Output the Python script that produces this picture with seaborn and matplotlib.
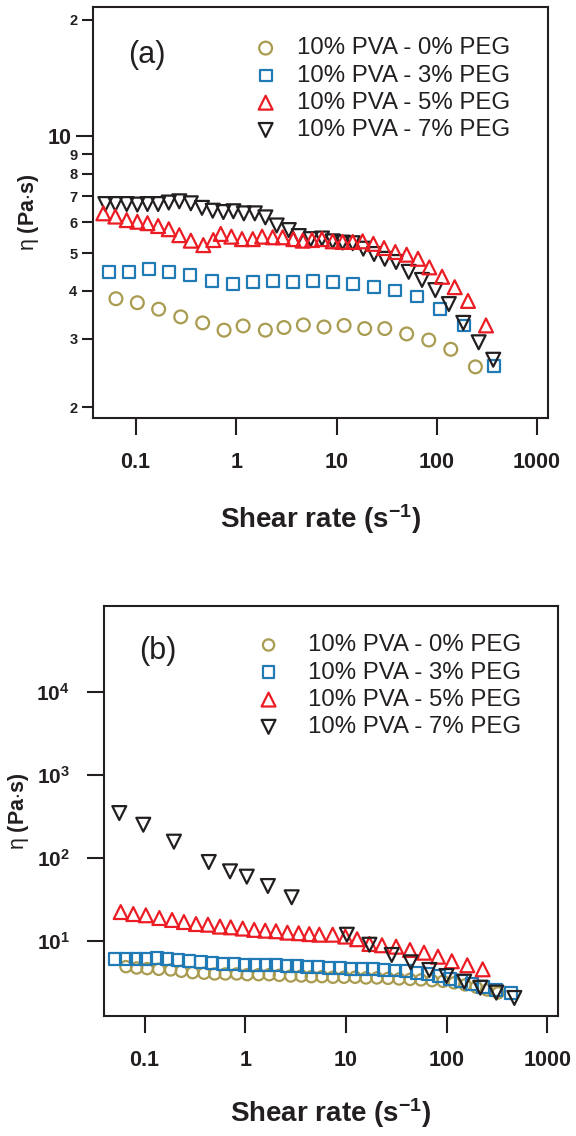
import matplotlib
matplotlib.use("Agg")
import matplotlib.pyplot as plt
import seaborn as sns
from matplotlib.ticker import FixedLocator, FixedFormatter, NullLocator

# ---------------- data (panel a) ----------------
a_x0 = [0.063, 0.103, 0.168, 0.279, 0.462, 0.755, 1.17, 1.95, 2.99, 4.67, 7.5, 11.9, 19.1, 30.3, 50.1, 83.2, 138, 243]
a_y0 = [3.81, 3.72, 3.58, 3.42, 3.30, 3.16, 3.24, 3.16, 3.21, 3.26, 3.22, 3.25, 3.19, 3.19, 3.09, 2.98, 2.82, 2.54]

a_x3 = [0.0535, 0.0858, 0.134, 0.215, 0.346, 0.573, 0.922, 1.46, 2.31, 3.66, 5.79, 9.16, 14.7, 23.7, 38.1, 63.1, 108, 187, 372]
a_y3 = [4.47, 4.47, 4.54, 4.47, 4.38, 4.24, 4.16, 4.21, 4.24, 4.21, 4.24, 4.21, 4.16, 4.09, 4.00, 3.86, 3.59, 3.25, 2.55]

a_x5 = [0.0472, 0.0622, 0.0807, 0.103, 0.130, 0.166, 0.212, 0.270, 0.352, 0.469, 0.590, 0.700, 0.893, 1.14, 1.46,
        1.81, 2.31, 2.90, 3.71, 4.60, 5.70, 7.16, 9.16, 11.5, 14.5, 18.2, 23.3, 29.8, 38.6, 50.1, 65.0, 84.3, 113, 151, 205, 310]
a_y5 = [6.33, 6.21, 6.08, 6.02, 5.97, 5.87, 5.76, 5.56, 5.38, 5.24, 5.40, 5.60, 5.51, 5.43, 5.43, 5.51, 5.49, 5.49,
        5.43, 5.38, 5.40, 5.43, 5.36, 5.34, 5.34, 5.36, 5.28, 5.15, 5.03, 4.95, 4.83, 4.59, 4.34, 4.08, 3.76, 3.25]

a_x7 = [0.0494, 0.0622, 0.0807, 0.103, 0.130, 0.166, 0.212, 0.270, 0.352, 0.455, 0.582, 0.743, 0.935, 1.19, 1.53,
        1.95, 2.53, 3.34, 4.20, 5.53, 7.16, 9.16, 11.5, 14.5, 18.5, 23.7, 30.3, 39.3, 52.5, 71.3, 96.8, 132, 184, 262, 366]
a_y7 = [6.69, 6.69, 6.69, 6.67, 6.69, 6.69, 6.75, 6.80, 6.72, 6.54, 6.43, 6.38, 6.41, 6.33, 6.33, 6.18, 5.89, 5.73,
        5.53, 5.43, 5.45, 5.36, 5.32, 5.30, 5.13, 4.97, 4.83, 4.74, 4.47, 4.26, 4.01, 3.69, 3.30, 2.94, 2.65]

# ---------------- data (panel b) ----------------
b_x0 = [0.0647, 0.0826, 0.105, 0.137, 0.180, 0.230, 0.298, 0.387, 0.494, 0.630, 0.817, 1.04, 1.35, 1.72, 2.17, 2.82,
        3.59, 4.52, 5.77, 7.42, 9.55, 12.3, 15.8, 20.3, 26.2, 33.7, 43.4, 55.7, 71.8, 92.3, 119, 153, 197, 253, 325]
b_y0 = [4.91, 4.73, 4.65, 4.56, 4.48, 4.32, 4.16, 4.09, 4.01, 4.01, 4.01, 3.93, 3.93, 3.93, 3.86, 3.79, 3.79, 3.72,
        3.72, 3.66, 3.66, 3.66, 3.59, 3.59, 3.55, 3.49, 3.45, 3.40, 3.33, 3.27, 3.13, 2.96, 2.79, 2.57, 2.37]

b_x3 = [0.050, 0.0648, 0.0813, 0.102, 0.131, 0.167, 0.213, 0.276, 0.358, 0.464, 0.593, 0.768, 0.982, 1.25, 1.60,
        2.01, 2.57, 3.23, 4.12, 5.26, 6.77, 8.71, 11.2, 14.4, 18.6, 23.9, 30.7, 39.6, 50.8, 65.4, 84.2, 108, 139, 179,
        231, 310, 440]
b_y3 = [6.12, 6.12, 6.12, 6.12, 6.24, 6.12, 5.91, 5.79, 5.59, 5.39, 5.29, 5.29, 5.19, 5.10, 5.10, 5.10, 5.00, 5.00,
        4.91, 4.83, 4.73, 4.73, 4.65, 4.56, 4.56, 4.48, 4.40, 4.32, 4.16, 4.01, 3.79, 3.52, 3.27, 3.04, 2.77, 2.57, 2.35]

b_x5 = [0.0573, 0.0765, 0.102, 0.139, 0.186, 0.244, 0.322, 0.423, 0.557, 0.713, 0.938, 1.22, 1.57, 2.01, 2.61, 3.38,
        4.31, 5.42, 7.37, 9.84, 12.9, 17.1, 22.8, 31.5, 43.3, 59.7, 82.2, 113, 161, 229]
b_y5 = [22.3, 21.1, 20.4, 18.9, 17.9, 16.9, 16.0, 15.7, 14.9, 14.6, 14.1, 13.6, 13.3, 13.1, 12.6, 12.4, 12.1, 11.9,
        11.9, 11.3, 10.5, 9.2, 8.88, 8.54, 7.79, 7.23, 6.47, 5.70, 5.10, 4.56]

b_x7 = [0.0555, 0.0962, 0.194, 0.431, 0.701, 1.03, 1.67, 2.88, 10.2, 17.1, 28.5, 44.1, 67.5, 100, 150, 217, 313, 473]
b_y7 = [347, 251, 157, 89.3, 69.0, 59.5, 45.9, 33.6, 11.9, 9.02, 6.79, 5.54, 4.48, 3.79, 3.24, 2.74, 2.39, 2.06]

labels = ["10% PVA - 0% PEG", "10% PVA - 3% PEG", "10% PVA - 5% PEG", "10% PVA - 7% PEG"]
x_ticks = [0.1, 1, 10, 100, 1000]
x_ticklabels = ["0.1", "1", "10", "100", "1000"]

# ---------------- style ----------------
sns.set_style("ticks")
plt.rcParams['font.family'] = ['Liberation Sans', 'DejaVu Sans']
plt.rcParams['mathtext.fontset'] = 'custom'
plt.rcParams['mathtext.rm'] = 'Liberation Sans'
plt.rcParams['mathtext.bf'] = 'Liberation Sans:bold'
plt.rcParams['mathtext.it'] = 'Liberation Sans:italic'
plt.rcParams['mathtext.sf'] = 'Liberation Sans'

INK = "#231f20"
colors = ["#a99b50", "#1f7ab6", "#ec1c24", "#231f20"]
markers = ["o", "s", "^", "v"]

fig = plt.figure(figsize=(5.76, 11.36), dpi=100)
axA = fig.add_axes([93 / 576, 1 - 418 / 1136, 455 / 576, 411 / 1136])
axB = fig.add_axes([104 / 576, 1 - 1016 / 1136, 454 / 576, 410 / 1136])


def bold(s):
    return r"$\mathbf{" + s + "}$"


def draw(ax, xs, ys, sizes, zorders):
    handles = []
    for x, y, m, c, s, lab, z in zip(xs, ys, markers, colors, sizes, labels, zorders):
        sns.scatterplot(x=x, y=y, ax=ax, marker=m, s=s, facecolor="none", edgecolor=c,
                        linewidth=1.6, label=lab, zorder=z, legend=False)
        handles.append(ax.collections[-1])
    return handles


def common(ax):
    ax.set_xscale("log")
    ax.set_yscale("log")
    for sp in ax.spines.values():
        sp.set_linewidth(1.5)
        sp.set_color(INK)
    ax.xaxis.set_major_locator(FixedLocator(x_ticks))
    ax.xaxis.set_major_formatter(FixedFormatter([bold(t) for t in x_ticklabels]))
    ax.xaxis.set_minor_locator(NullLocator())
    ax.tick_params(axis="x", which="major", length=12.5, width=1.5, color=INK, pad=12,
                   labelsize=15.5, labelcolor=INK, direction="out")
    ax.tick_params(top=False, right=False)


# ---------------- panel (a) ----------------
hA = draw(axA, [a_x0, a_x3, a_x5, a_x7], [a_y0, a_y3, a_y5, a_y7], [85, 72, 100, 100], [3, 4, 6, 5])
common(axA)
axA.set_xlim(0.0372, 1288)
axA.set_ylim(1.874, 21.6)
axA.yaxis.set_major_locator(FixedLocator([10]))
axA.yaxis.set_major_formatter(FixedFormatter([bold("10")]))
axA.yaxis.set_minor_locator(FixedLocator([2, 3, 4, 5, 6, 7, 8, 9, 20]))
axA.yaxis.set_minor_formatter(FixedFormatter([bold(t) for t in ["2", "3", "4", "5", "6", "7", "8", "9", "2"]]))
axA.tick_params(axis="y", which="major", length=12.5, width=1.5, color=INK, pad=2.5,
                labelsize=15.5, labelcolor=INK)
axA.tick_params(axis="y", which="minor", length=8, width=1.5, color=INK, pad=2.5,
                labelsize=10.5, labelcolor=INK)
axA.set_xlabel(r"$\mathbf{Shear\ rate\ (s^{-1})}$", fontsize=20, color=INK)
axA.xaxis.set_label_coords(0.5, -0.2676)
axA.xaxis.label.set_verticalalignment("baseline")
axA.set_ylabel(r"$\mathrm{\eta}\ \mathbf{(Pa{\cdot}s)}$", fontsize=15.5, color=INK)
axA.yaxis.set_label_coords(-0.142, 0.5)
axA.yaxis.label.set_verticalalignment("center")
axA.text(0.119, 0.883, "(a)", transform=axA.transAxes, ha="center", va="center", fontsize=22, color=INK)
legA = axA.legend(hA, labels, loc="upper left", bbox_to_anchor=(0.353, 0.926), frameon=False, borderpad=0,
                  borderaxespad=0, handlelength=1.0, handletextpad=0.8, labelspacing=0.22, fontsize=17.3,
                  scatterpoints=1)
for t in legA.get_texts():
    t.set_color(INK)

# ---------------- panel (b) ----------------
hB = draw(axB, [b_x0, b_x3, b_x5, b_x7], [b_y0, b_y3, b_y5, b_y7], [66, 72, 100, 100], [3, 4, 5, 6])
common(axB)
axB.set_xlim(0.0391, 1286)
axB.set_ylim(1.25, 1.08e5)
axB.yaxis.set_major_locator(FixedLocator([10, 100, 1000, 10000]))
axB.yaxis.set_major_formatter(FixedFormatter([bold("10^{%d}" % k) for k in [1, 2, 3, 4]]))
axB.yaxis.set_minor_locator(NullLocator())
axB.tick_params(axis="y", which="major", length=12.5, width=1.5, color=INK, pad=12,
                labelsize=15, labelcolor=INK)
axB.set_xlabel(r"$\mathbf{Shear\ rate\ (s^{-1})}$", fontsize=20, color=INK)
axB.xaxis.set_label_coords(0.5, -0.258)
axB.xaxis.label.set_verticalalignment("baseline")
axB.set_ylabel(r"$\mathrm{\eta}\ \mathbf{(Pa{\cdot}s)}$", fontsize=15.5, color=INK)
axB.yaxis.set_label_coords(-0.189, 0.5)
axB.yaxis.label.set_verticalalignment("center")
axB.text(0.119, 0.89, "(b)", transform=axB.transAxes, ha="center", va="center", fontsize=22, color=INK)
legB = axB.legend(hB, labels, loc="upper left", bbox_to_anchor=(0.336, 0.931), frameon=False, borderpad=0,
                  borderaxespad=0, handlelength=1.0, handletextpad=1.15, labelspacing=0.22, fontsize=17.3,
                  scatterpoints=1)
for t in legB.get_texts():
    t.set_color(INK)

fig.savefig("out.png", dpi=100)
